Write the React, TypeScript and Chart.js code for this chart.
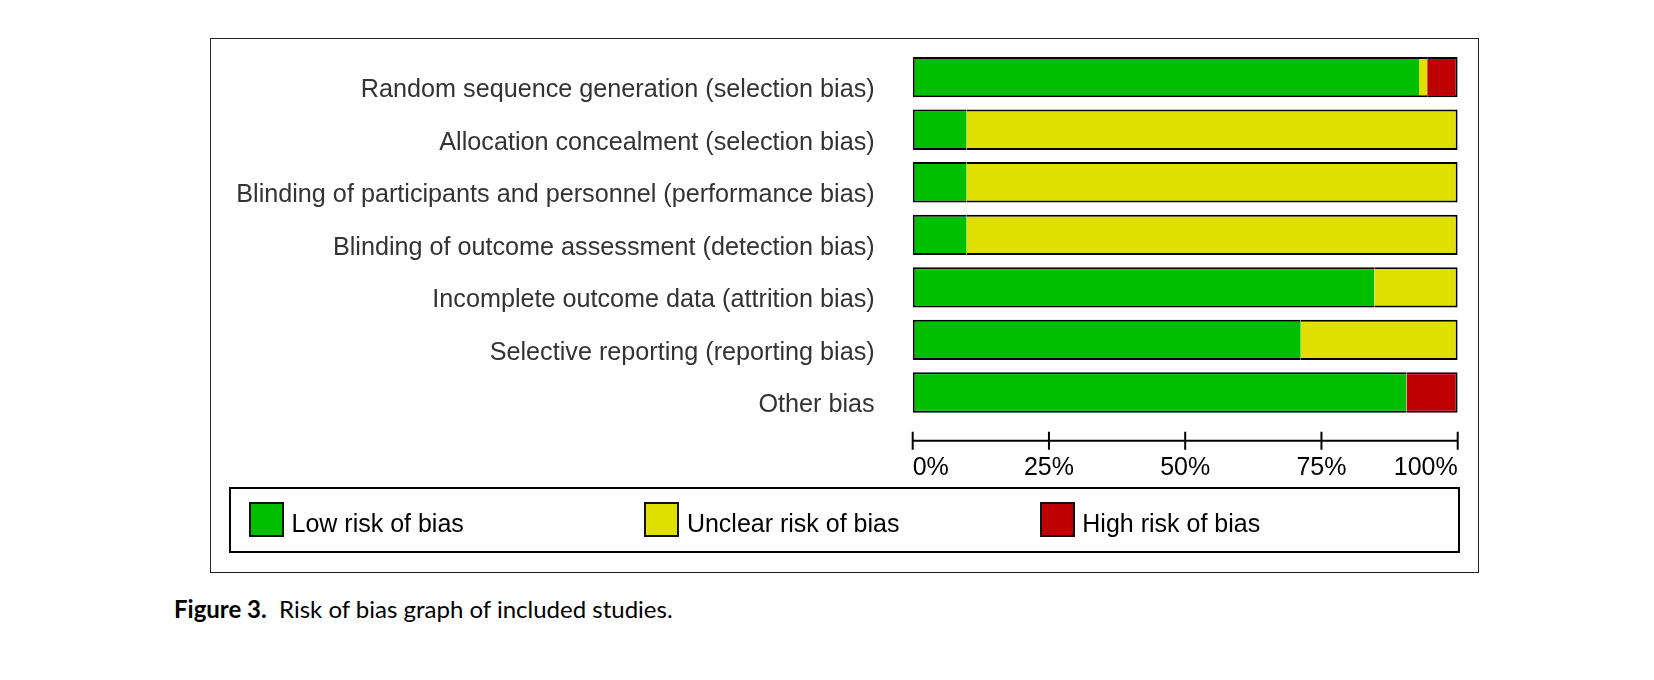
import React, { useEffect, useRef } from "react";
import { Chart, registerables } from "chart.js";

Chart.register(...registerables);

const categories = [
  "Random sequence generation (selection bias)",
  "Allocation concealment (selection bias)",
  "Blinding of participants and personnel (performance bias)",
  "Blinding of outcome assessment (detection bias)",
  "Incomplete outcome data (attrition bias)",
  "Selective reporting (reporting bias)",
  "Other bias",
];
const lowRisk = [92.9, 9.9, 9.9, 9.9, 84.7, 71.2, 90.6];
const unclearRisk = [1.5, 90.1, 90.1, 90.1, 15.3, 28.8, 0];
const highRisk = [5.6, 0, 0, 0, 0, 0, 9.4];
const seriesNames = ["Low risk of bias", "Unclear risk of bias", "High risk of bias"];
const seriesColors = ["#00BF00", "#DFDF00", "#BF0000"];
const xTicks = [0, 25, 50, 75, 100];

const FONT = "'Liberation Sans', Arial, Helvetica, sans-serif";

export default function App() {
  const ref = useRef<HTMLCanvasElement | null>(null);

  useEffect(() => {
    const canvas = ref.current;
    if (!canvas) return;
    const series = [lowRisk, unclearRisk, highRisk];

    const borderFor = (ctx: any) => {
      const i = ctx.dataIndex;
      const d = ctx.datasetIndex;
      let first = -1;
      let last = -1;
      series.forEach((s, k) => {
        if (s[i] > 0) {
          if (first < 0) first = k;
          last = k;
        }
      });
      return { top: 2, bottom: 2, left: d === first ? 2 : 0, right: d === last ? 2 : 0 };
    };

    const axisPlugin = {
      id: "revmanAxis",
      afterDraw(chart: any) {
        const xs = chart.scales.x;
        const c = chart.ctx;
        const y = chart.chartArea.bottom + 22;
        c.save();
        c.strokeStyle = "#000";
        c.lineWidth = 2;
        c.beginPath();
        c.moveTo(xs.left, y);
        c.lineTo(xs.right, y);
        xs.ticks.forEach((t: any) => {
          const px = xs.getPixelForValue(t.value);
          c.moveTo(px, y - 9);
          c.lineTo(px, y + 9);
        });
        c.stroke();
        c.restore();
      },
    };

    const chart = new Chart(canvas, {
      type: "bar",
      data: {
        labels: categories,
        datasets: series.map((s, k) => ({
          label: seriesNames[k],
          data: s,
          backgroundColor: seriesColors[k],
          borderColor: "#000",
          borderWidth: borderFor,
          borderSkipped: false,
          barPercentage: 0.767,
          categoryPercentage: 1,
        })),
      },
      options: {
        indexAxis: "y",
        animation: false,
        responsive: false,
        devicePixelRatio: 1,
        layout: { padding: { top: 10.9, right: 18.3, bottom: 0, left: 0 } },
        plugins: { legend: { display: false }, tooltip: { enabled: false } },
        scales: {
          x: {
            stacked: true,
            min: 0,
            max: 100,
            afterBuildTicks: (s: any) => {
              s.ticks = xTicks.map((v) => ({ value: v }));
            },
            ticks: {
              callback: (v: any) => v + "%",
              align: "inner",
              padding: 34,
              color: "#000",
              font: { family: FONT, size: 25 },
              maxRotation: 0,
            },
            grid: { display: false, drawTicks: false },
            border: { display: false },
            afterFit: (s: any) => {
              s.height = 71.25;
              s.paddingLeft = 0;
              s.paddingRight = 0;
            },
          },
          y: {
            stacked: true,
            ticks: {
              padding: 38,
              labelOffset: 13,
              color: "#333",
              font: { family: FONT, size: 25.2 },
            },
            grid: { display: false, drawTicks: false },
            border: { display: false },
            afterFit: (s: any) => {
              s.width = 700.7;
              s.paddingTop = 0;
              s.paddingBottom = 0;
            },
          },
        },
      },
      plugins: [axisPlugin],
    } as any);
    return () => chart.destroy();
  }, []);

  return (
    <div>
      <div
        style={{
          position: "absolute",
          left: 210,
          top: 38,
          width: 1269,
          height: 535,
          border: "1px solid #222",
          boxSizing: "border-box",
        }}
      />
      <canvas
        ref={ref}
        width={1264}
        height={450}
        style={{ position: "absolute", left: 212, top: 40, width: 1264, height: 450 }}
      />
      <div
        style={{
          position: "absolute",
          left: 229,
          top: 487,
          width: 1231,
          height: 66,
          border: "2px solid #000",
          boxSizing: "border-box",
        }}
      />
      {seriesNames.map((name, k) => (
        <React.Fragment key={name}>
          <div
            style={{
              position: "absolute",
              left: 249 + k * 395.4,
              top: 502,
              width: 35,
              height: 35,
              background: seriesColors[k],
              border: "2px solid #111",
              boxSizing: "border-box",
            }}
          />
          <div
            style={{
              position: "absolute",
              left: 291.5 + k * 395.4,
              top: 511,
              fontFamily: FONT,
              fontSize: 25,
              lineHeight: "25px",
              color: "#000",
              whiteSpace: "nowrap",
            }}
          >
            {name}
          </div>
        </React.Fragment>
      ))}
      <div
        style={{
          position: "absolute",
          left: 174,
          top: 597,
          fontFamily: "Lato, 'Open Sans', sans-serif",
          fontSize: 24,
          lineHeight: "24px",
          color: "#000",
          whiteSpace: "nowrap",
        }}
      >
        <b>Figure 3.</b>&nbsp; Risk of bias graph of included studies.
      </div>
    </div>
  );
}
